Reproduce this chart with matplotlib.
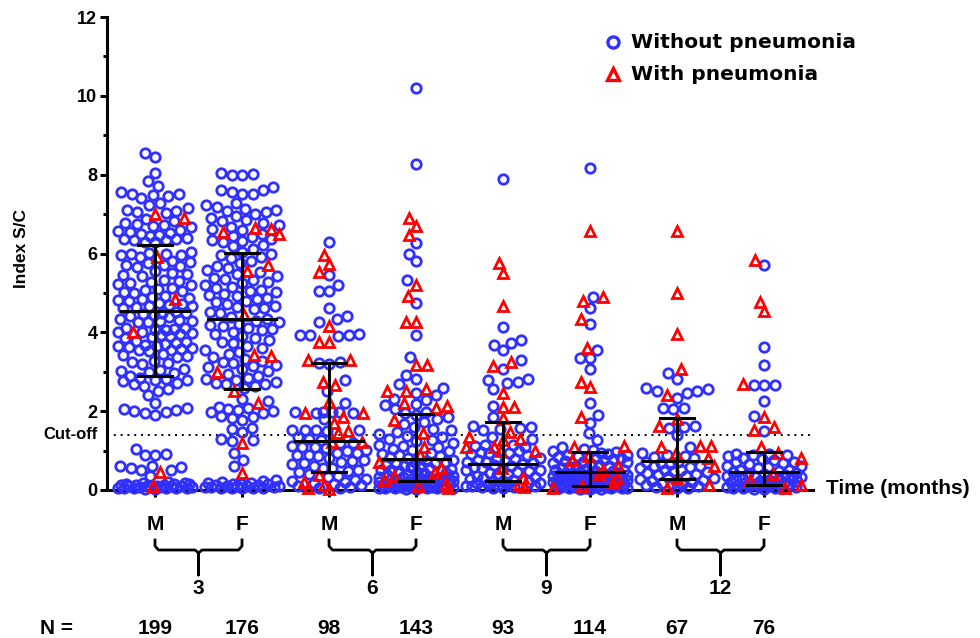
import numpy as np
import matplotlib
matplotlib.use("Agg")
import matplotlib.pyplot as plt
from matplotlib.lines import Line2D
from matplotlib.transforms import blended_transform_factory

plt.rcParams["font.family"] = ["Liberation Sans", "DejaVu Sans"]
plt.rcParams["font.weight"] = "bold"

sex_labels = ["M", "F", "M", "F", "M", "F", "M", "F"]
month_labels = ["3", "6", "9", "12"]
n_labels = ["199", "176", "98", "143", "93", "114", "67", "76"]

# Index S/C values, per group (without / with pneumonia)
m3_without = [
    8.55, 8.45, 8.05, 7.85,
    7.72, 7.55, 7.52, 7.5, 7.48, 7.45, 7.4,
    7.28, 7.22, 7.15, 7.1, 7.08, 7.05, 7.02,
    6.88, 6.82, 6.78, 6.75, 6.72, 6.7, 6.68,
    6.6, 6.58, 6.55, 6.52, 6.5, 6.48, 6.45,
    6.4, 6.38, 6.36, 6.35, 6.33, 6.3, 6.28,
    6.05, 6.02, 6.0, 5.98, 5.96, 5.95, 5.92,
    5.8, 5.78, 5.75, 5.72, 5.7, 5.68, 5.65,
    5.55, 5.5, 5.48, 5.45, 5.42,
    5.32, 5.3, 5.28, 5.25, 5.22, 5.2,
    5.12, 5.1, 5.08, 5.05, 5.02, 5.0,
    4.92, 4.9, 4.88, 4.85, 4.82, 4.8,
    4.75, 4.72, 4.7, 4.68, 4.66, 4.65, 4.62,
    4.52, 4.5, 4.48, 4.46, 4.45, 4.42, 4.4,
    4.35, 4.32, 4.3, 4.28, 4.26, 4.25,
    4.12, 4.1, 4.08, 4.06, 4.05, 4.02, 4.0,
    3.98, 3.95, 3.92, 3.9, 3.88, 3.86,
    3.78, 3.75, 3.72, 3.7, 3.68, 3.66, 3.65,
    3.62, 3.6, 3.58, 3.56, 3.55, 3.52,
    3.45, 3.42, 3.4, 3.38,
    3.28, 3.25, 3.22, 3.2,
    3.08, 3.05, 3.02, 3.0, 2.98,
    2.88, 2.85, 2.82, 2.8, 2.78, 2.76,
    2.72, 2.7, 2.65, 2.55, 2.52, 2.4, 2.2,
    2.08, 2.05, 2.02, 2.0, 1.98, 1.95, 1.9,
    1.05, 0.92, 0.9, 0.88, 0.62, 0.6, 0.58, 0.55, 0.52, 0.5, 0.35,
    0.2, 0.18, 0.17, 0.16, 0.15, 0.14, 0.13, 0.12, 0.12, 0.11, 0.1, 0.1, 0.09,
    0.09, 0.08, 0.08, 0.07, 0.07, 0.06, 0.06, 0.05, 0.05, 0.04, 0.04, 0.03, 0.03,
]
m3_with = [7.0, 6.9, 5.9, 4.85, 4.0, 0.45, 0.1]

f3_without = [
    8.05, 8.02, 8.0, 7.98,
    7.68, 7.62, 7.6, 7.55, 7.52, 7.5,
    7.28, 7.22, 7.18, 7.12, 7.1, 7.08, 7.05, 7.0,
    6.95, 6.9, 6.85, 6.82, 6.78, 6.72, 6.68, 6.62, 6.6,
    6.5, 6.45, 6.42, 6.38, 6.35, 6.32, 6.28, 6.22, 6.18, 6.12,
    6.05, 6.0, 5.97, 5.92, 5.88, 5.82, 5.75, 5.68,
    5.62, 5.58, 5.52, 5.48,
    5.42, 5.38, 5.35, 5.32, 5.28, 5.25,
    5.2, 5.16, 5.12, 5.08, 5.05, 5.02, 4.98,
    4.95, 4.92, 4.88, 4.84, 4.8, 4.76, 4.72, 4.68, 4.65,
    4.62, 4.58, 4.52, 4.48, 4.4, 4.35,
    4.3, 4.26, 4.22, 4.18, 4.15, 4.12, 4.08, 4.05, 4.02,
    3.95, 3.9, 3.85, 3.8, 3.75,
    3.72, 3.66, 3.6, 3.55, 3.5, 3.45, 3.38,
    3.32, 3.28, 3.25, 3.22, 3.18, 3.15, 3.12, 3.08, 3.02,
    2.95, 2.9, 2.85, 2.82, 2.78,
    2.74, 2.72, 2.7, 2.68, 2.65, 2.6,
    2.32, 2.26,
    2.1, 2.08, 2.05, 2.03, 2.0, 1.98, 1.95,
    1.88, 1.85, 1.82, 1.78,
    1.58, 1.55, 1.48, 1.3, 1.27, 1.24, 0.93, 0.76, 0.6,
    0.25, 0.22, 0.2, 0.18, 0.17, 0.16, 0.15, 0.14, 0.13, 0.12, 0.11,
    0.1, 0.1, 0.09, 0.08, 0.08, 0.07, 0.06, 0.06, 0.05, 0.05, 0.04,
]
f3_with = [6.65, 6.62, 6.55, 6.5, 5.7, 5.55, 4.45, 3.42, 3.4, 3.0, 2.5, 2.2, 1.2, 0.42]

m6_without = [
    6.28, 5.46, 5.2, 5.06, 5.06, 4.62, 4.42, 4.34, 4.25,
    3.95, 3.93, 3.92, 3.9, 3.93, 3.25, 3.23, 3.2, 2.79, 2.5, 2.2,
    1.99, 1.98, 1.97, 1.96, 1.95, 1.97, 1.79, 1.53, 1.52, 1.51, 1.5, 1.52,
    1.35, 1.3, 1.28, 1.2, 1.18, 1.12, 1.1, 1.08, 1.06, 1.02, 0.98, 0.95, 0.93, 0.9,
    0.88, 0.85, 0.8, 0.75, 0.73, 0.7, 0.68, 0.65, 0.6, 0.57, 0.55, 0.52, 0.48, 0.45,
    0.4, 0.35, 0.32, 0.28, 0.25, 0.22, 0.2, 0.18, 0.15, 0.12, 0.1, 0.08, 0.06, 0.05,
]
m6_with = [5.96, 5.73, 5.54, 4.15, 3.76, 3.76, 3.3, 3.3, 2.75, 2.66, 2.24, 1.96, 1.96,
           1.86, 1.7, 1.5, 1.45, 1.23, 1.23, 0.38, 0.2, 0.12, 0.06, 0.03]

f6_without = [
    10.2, 8.27, 6.27, 6.0, 5.8, 5.33, 4.75, 3.93, 3.38, 2.92,
    2.82, 2.7, 2.6, 2.45, 2.4, 2.3, 2.28, 2.18, 2.15, 2.05, 1.98,
    1.95, 1.9, 1.85, 1.8, 1.72, 1.68, 1.6, 1.55, 1.52, 1.48, 1.42,
    1.38, 1.35, 1.3, 1.28, 1.25, 1.2, 1.15, 1.12, 1.08, 1.05, 1.02, 0.98,
    0.95, 0.92, 0.9, 0.87, 0.84, 0.8,
    0.76, 0.74, 0.72, 0.7, 0.68, 0.66, 0.64, 0.62, 0.6, 0.58,
    0.56, 0.54, 0.52, 0.5, 0.48, 0.46, 0.44, 0.42, 0.4, 0.38,
    0.36, 0.34, 0.33, 0.32, 0.31, 0.3, 0.29, 0.28, 0.27, 0.26,
    0.25, 0.24, 0.23, 0.22, 0.21, 0.2, 0.2, 0.19, 0.18, 0.18,
    0.17, 0.16, 0.16, 0.15, 0.14, 0.14, 0.13, 0.12, 0.12, 0.11,
    0.1, 0.1, 0.09, 0.09, 0.08, 0.08, 0.07, 0.07, 0.06, 0.06,
    0.05, 0.05, 0.04, 0.04, 0.03, 0.02,
]
f6_with = [6.9, 6.7, 6.47, 5.2, 4.91, 4.27, 4.27, 3.17, 3.17,
           2.55, 2.5, 2.5, 2.2, 2.12, 2.08, 1.78, 1.45, 1.1, 0.9,
           0.7, 0.55, 0.45, 0.35, 0.25, 0.15, 0.1, 0.05]

m9_without = [
    7.9, 4.14, 3.8, 3.74, 3.68, 3.55, 3.3, 3.07, 2.82, 2.79, 2.75, 2.71, 2.56,
    2.13, 1.86, 1.62, 1.6, 1.58, 1.55, 1.52, 1.35, 1.3, 1.15, 1.14, 1.12, 1.1,
    0.98, 0.96, 0.95, 0.93, 0.92, 0.9,
    0.82, 0.8, 0.78, 0.76, 0.74, 0.72, 0.7, 0.68, 0.66, 0.63, 0.6, 0.58, 0.55,
    0.52, 0.5, 0.48, 0.45, 0.42, 0.4, 0.38, 0.35, 0.32, 0.3, 0.28, 0.26, 0.24,
    0.22, 0.2, 0.18, 0.17, 0.15, 0.14, 0.12, 0.11, 0.1, 0.09, 0.08, 0.07, 0.06, 0.05,
]
m9_with = [5.75, 5.5, 4.67, 3.26, 3.15, 2.46, 2.1, 2.1, 1.82, 1.48, 1.34, 1.3,
           1.28, 1.1, 1.08, 1.0, 0.98, 0.55, 0.3, 0.15, 0.08]

f9_without = [
    8.17, 4.89, 4.61, 4.21, 3.55, 3.35, 3.35, 3.07, 2.2, 1.9, 1.71, 1.44, 1.27,
    1.1, 1.05, 1.02, 1.0,
    0.96, 0.94, 0.92, 0.9, 0.88, 0.86, 0.84, 0.82, 0.8, 0.78, 0.76, 0.74, 0.72,
    0.7, 0.68, 0.66, 0.64, 0.62, 0.6, 0.58, 0.56, 0.54, 0.52, 0.5, 0.49, 0.48,
    0.45, 0.44, 0.43, 0.42, 0.41, 0.4, 0.39, 0.38, 0.37, 0.36,
    0.35, 0.34, 0.33, 0.32, 0.31, 0.3, 0.29, 0.28, 0.27, 0.26,
    0.25, 0.24, 0.23, 0.22, 0.21, 0.2, 0.19, 0.18, 0.17, 0.16,
    0.16, 0.15, 0.14, 0.13, 0.12, 0.12, 0.11, 0.1, 0.1, 0.09,
    0.08, 0.08, 0.07, 0.06, 0.06, 0.05, 0.05, 0.04, 0.04, 0.03, 0.03, 0.02,
]
f9_with = [6.56, 4.9, 4.8, 4.33, 3.61, 2.74, 2.62, 1.86, 1.12, 1.1,
           0.85, 0.75, 0.62, 0.5, 0.4, 0.3, 0.2, 0.1, 0.05]

m12_without = [
    2.96, 2.81, 2.58, 2.55, 2.52, 2.5, 2.45, 2.33, 2.09, 2.08, 2.05,
    1.62, 1.6, 1.58, 1.4, 1.1, 0.95, 0.88, 0.86, 0.84, 0.82,
    0.72, 0.7, 0.68, 0.65, 0.62, 0.6, 0.58, 0.55, 0.52, 0.5, 0.48, 0.45,
    0.42, 0.4, 0.38, 0.35, 0.32, 0.3, 0.28, 0.25, 0.22, 0.2, 0.18, 0.16,
    0.14, 0.12, 0.1, 0.08, 0.06, 0.04,
]
m12_with = [6.58, 4.99, 3.96, 3.06, 2.41, 1.8, 1.63, 1.12, 1.12, 1.1, 0.95, 0.8,
            0.6, 0.3, 0.12, 0.05]

f12_without = [
    5.71, 3.62, 3.17, 2.66, 2.66, 2.66, 2.27, 1.88, 1.5,
    0.92, 0.91, 0.9, 0.88, 0.86, 0.8, 0.78, 0.75, 0.72, 0.7, 0.68, 0.65,
    0.62, 0.6, 0.58, 0.55, 0.52, 0.5, 0.48,
    0.45, 0.43, 0.41, 0.4, 0.38, 0.36, 0.35, 0.33, 0.32, 0.3, 0.28, 0.27,
    0.25, 0.24, 0.22, 0.21, 0.2, 0.18, 0.17, 0.16, 0.15, 0.14, 0.13, 0.12,
    0.11, 0.1, 0.09, 0.08, 0.07, 0.06, 0.05, 0.04, 0.03, 0.02,
]
f12_with = [5.84, 4.78, 4.53, 2.69, 1.84, 1.61, 1.52, 1.1, 0.95, 0.8,
            0.4, 0.25, 0.12, 0.05]

without_groups = [m3_without, f3_without, m6_without, f6_without,
                  m9_without, f9_without, m12_without, f12_without]
with_groups = [m3_with, f3_with, m6_with, f6_with,
               m9_with, f9_with, m12_with, f12_with]

# median and interquartile range bars as drawn
medians = [4.55, 4.35, 1.24, 0.79, 0.66, 0.46, 0.74, 0.46]
q1 = [2.88, 2.55, 0.46, 0.23, 0.23, 0.10, 0.28, 0.13]
q3 = [6.22, 6.02, 3.22, 1.93, 1.73, 0.96, 1.83, 0.96]
cutoff = 1.4

BLUE = "#3030ff"
RED = "#ff0000"

fig = plt.figure(figsize=(9.8, 6.38), dpi=100)
ax = fig.add_axes([107 / 980, 148 / 638, 706 / 980, 473 / 638])
ax.set_xlim(-0.552, 7.563)
ax.set_ylim(0, 12)

sx = ax.bbox.width / (7.563 + 0.552)
sy = ax.bbox.height / 12.0


def swarm(yvals, diam=10.5, half=37.0):
    # simple beeswarm in pixel space, width capped like the original
    y = np.asarray(yvals, float) * sy
    order = np.argsort(y, kind="stable")
    cand = np.arange(-half, half + 0.25, 0.5)
    cand = cand[np.argsort(np.abs(cand), kind="stable")]
    xs = np.zeros(len(y))
    placed = []
    for i in order:
        if placed:
            px = xs[placed]
            py = y[placed]
            near = np.abs(py - y[i]) < diam
            if near.any():
                d = np.hypot(cand[:, None] - px[near][None, :],
                             (y[i] - py[near])[None, :]).min(axis=1)
                ok = np.nonzero(d >= diam)[0]
                j = ok[0] if len(ok) else int(np.argmax(d))
                xs[i] = cand[j]
        placed.append(i)
    return xs / sx


for g in range(8):
    vals = list(without_groups[g]) + list(with_groups[g])
    flag = np.array([0] * len(without_groups[g]) + [1] * len(with_groups[g]))
    off = swarm(vals)
    vals = np.array(vals)
    xb = g + off
    ax.plot(xb[flag == 0], vals[flag == 0], "o", ms=6.8, mfc="none", mec=BLUE,
            mew=2.0, clip_on=False, zorder=3)
    ax.plot(xb[flag == 1], vals[flag == 1], "^", ms=7.4, mfc="none", mec=RED,
            mew=2.0, clip_on=False, zorder=4)

# median with interquartile range
for g in range(8):
    ax.plot([g - 0.39, g + 0.39], [medians[g], medians[g]], color="black", lw=2.2, zorder=5)
    ax.plot([g, g], [q1[g], q3[g]], color="black", lw=2.2, zorder=5)
    for q in (q1[g], q3[g]):
        ax.plot([g - 0.19, g + 0.19], [q, q], color="black", lw=2.2, zorder=5)

ax.axhline(cutoff, color="black", lw=1.4, ls=(0, (1, 2.5)), zorder=1)

for s in ("top", "right"):
    ax.spines[s].set_visible(False)
for s in ("left", "bottom"):
    ax.spines[s].set_linewidth(2.2)
ax.set_yticks(range(0, 13, 2))
ax.set_yticks(range(1, 12, 2), minor=True)
ax.tick_params(axis="y", which="major", length=5, width=2.2, labelsize=13, pad=2)
ax.tick_params(axis="y", which="minor", length=3, width=2.2)
ax.set_xticks(range(8))
ax.set_xticklabels(sex_labels, fontsize=15, fontweight="bold")
ax.tick_params(axis="x", length=5, width=2.2, pad=13)
for lab in ax.get_yticklabels():
    lab.set_fontweight("bold")

tr = blended_transform_factory(ax.transData, ax.transAxes)


def yfrac(ypx):
    return (490 - ypx) / 473


ax.text(-0.013, cutoff, "Cut-off", transform=blended_transform_factory(ax.transAxes, ax.transData),
        ha="right", va="center", fontsize=12, fontweight="bold")

# braces grouping M/F per time point
for k in range(4):
    xl, xr = 2 * k, 2 * k + 1
    xc = (xl + xr) / 2
    bx = [xl, xl, xl + 0.04, xc - 0.04, xc, xc, xc, xc + 0.04, xr - 0.04, xr, xr]
    by = [540, 546, 550, 550, 553, 575, 553, 550, 550, 546, 540]
    ax.plot(bx, [yfrac(v) for v in by], color="black", lw=2.0, transform=tr,
            clip_on=False, solid_joinstyle="round")
    ax.text(xc, yfrac(589), month_labels[k], transform=tr, ha="center", va="center",
            fontsize=15, fontweight="bold")

for g in range(8):
    ax.text(g, yfrac(628), n_labels[g], transform=tr, ha="center", va="center",
            fontsize=15, fontweight="bold")
fig.text(40 / 980, 1 - 628 / 638, "N =", ha="left", va="center", fontsize=15, fontweight="bold")

fig.text(22 / 980, 1 - 248 / 638, "Index S/C", rotation=90, ha="center", va="center",
         fontsize=12.5, fontweight="bold")
fig.text(826 / 980, 1 - 489 / 638, "Time (months)", ha="left", va="center",
         fontsize=15, fontweight="bold")

# legend
fig.add_artist(Line2D([613 / 980], [1 - 42 / 638], marker="o", ms=8, mfc="none", mec=BLUE,
                      mew=2.4, ls="none", transform=fig.transFigure))
fig.add_artist(Line2D([613 / 980], [1 - 74 / 638], marker="^", ms=9, mfc="none", mec=RED,
                      mew=2.4, ls="none", transform=fig.transFigure))
fig.text(631 / 980, 1 - 42 / 638, "Without pneumonia", ha="left", va="center",
         fontsize=14.5, fontweight="bold", family="DejaVu Sans")
fig.text(631 / 980, 1 - 74 / 638, "With pneumonia", ha="left", va="center",
         fontsize=14.5, fontweight="bold", family="DejaVu Sans")

fig.savefig("out.png", dpi=100)
